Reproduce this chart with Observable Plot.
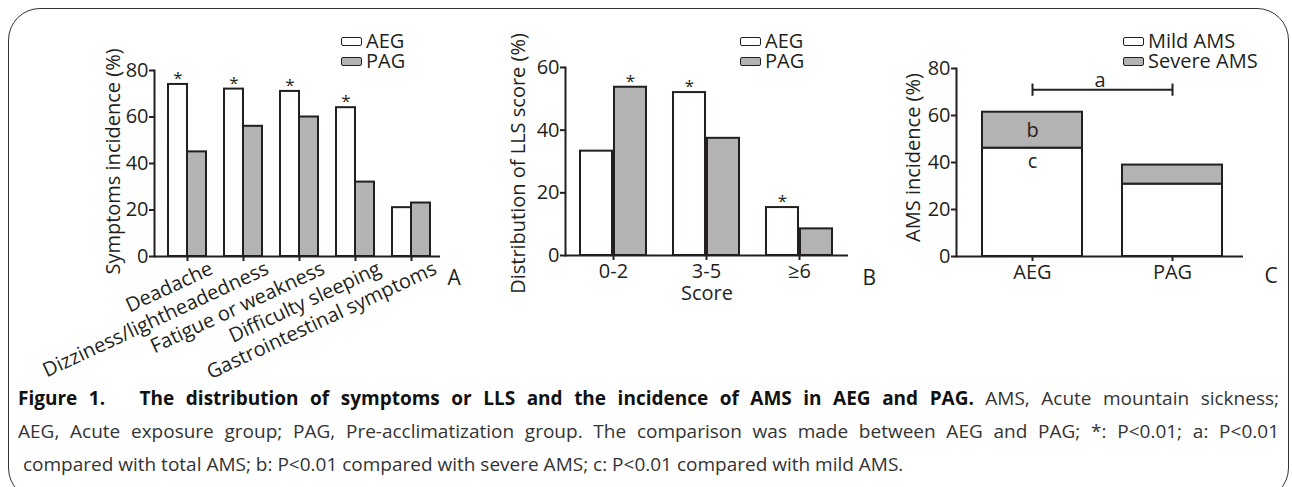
<!DOCTYPE html>
<html><head><meta charset="utf-8">
<script src="https://cdn.jsdelivr.net/npm/d3@7"></script>
<script src="https://cdn.jsdelivr.net/npm/@observablehq/plot@0.6"></script>
<style>
body{margin:0;background:#fff;}
#wrap{position:relative;width:1292px;height:487px;overflow:hidden;font-family:"Open Sans",sans-serif;color:#231f20;}
#border{position:absolute;left:8px;top:8px;width:1281px;height:492px;border:1.3px solid #333;border-radius:32px;box-sizing:border-box;}
.panel{position:absolute;top:0;}
.legend{position:absolute;font-size:20px;line-height:20px;top:31px;}
.legend .row{display:flex;align-items:center;height:20px;}
.sw{display:inline-block;width:21px;height:9px;border:1.6px solid #231f20;border-radius:2px;box-sizing:border-box;margin-right:4px;}
#caption{position:absolute;left:18px;top:382px;width:1261px;font-size:19px;line-height:33px;color:#333;}
#caption .j{text-align:justify;text-align-last:justify;white-space:nowrap;overflow:hidden;}
#caption b{color:#111;}
</style>
</head><body>
<div id="wrap">
<div id="border"></div>
<div id="pA" class="panel" style="left:0px"></div>
<div id="pB" class="panel" style="left:470px"></div>
<div id="pC" class="panel" style="left:890px"></div>
<div id="legA" class="legend" style="left:341px"></div>
<div id="legB" class="legend" style="left:740px"></div>
<div id="legC" class="legend" style="left:1123px"></div>
<div id="caption">
<div class="j" id="cl1"><b>Figure 1.&nbsp;&nbsp; The distribution of symptoms or LLS and the incidence of AMS in AEG and PAG.</b> AMS, Acute mountain sickness;</div>
<div class="j" id="cl2">AEG, Acute exposure group; PAG, Pre-acclimatization group. The comparison was made between AEG and PAG; *: P&lt;0.01; a: P&lt;0.01</div>
<div>&nbsp;compared with total AMS; b: P&lt;0.01 compared with severe AMS; c: P&lt;0.01 compared with mild AMS.</div>
</div>
</div>
<script>
// ---- Panel A data ----
const symptoms = ["Deadache", "Dizziness/lightheadedness", "Fatigue or weakness", "Difficulty sleeping", "Gastrointestinal symptoms"];
const symptomAEG = [74, 72, 71, 64, 21];
const symptomPAG = [45, 56, 60, 32, 23];
const symptomStarAEG = [true, true, true, true, false];
const yTicksA = [0, 20, 40, 60, 80];

// ---- Panel B data ----
const scores = ["0-2", "3-5", "≥6"];
const scoreAEG = [33.3, 52.0, 15.3];
const scorePAG = [53.7, 37.4, 8.5];
const scoreStarAEG = [false, true, true];
const scoreStarPAG = [true, false, false];
const yTicksB = [0, 20, 40, 60];

// ---- Panel C data ----
const groups = ["AEG", "PAG"];
const mildAMS = [46.1, 30.8];
const severeAMS = [15.3, 8.1];
const bracketValue = 71;
const yTicksC = [0, 20, 40, 60, 80];

const seriesNames = ["AEG", "PAG"];
const amsNames = ["Mild AMS", "Severe AMS"];

const INK = "#231f20";
const GRAY = "#b3b3b3";
const baseStyle = {fontFamily: "Open Sans, sans-serif", fontSize: "20px", color: INK, background: "transparent", overflow: "visible"};

// ---------- Panel A ----------
const dataA = symptoms.map((s, i) => ({cat: s, aeg: symptomAEG[i], pag: symptomPAG[i], star: symptomStarAEG[i]}));
const plotA = Plot.plot({
  width: 470, height: 390, marginLeft: 154, marginRight: 30, marginTop: 70, marginBottom: 134,
  style: baseStyle,
  x: {domain: symptoms, paddingInner: 0.321, paddingOuter: 0.214, align: 0.58, label: null},
  y: {domain: [0, 80], label: null},
  marks: [
    Plot.barY(dataA, {x: "cat", y: "aeg", fill: "white", stroke: INK, strokeWidth: 2, insetRight: 19}),
    Plot.barY(dataA, {x: "cat", y: "pag", fill: GRAY, stroke: INK, strokeWidth: 2, insetLeft: 19}),
    Plot.text(dataA.filter(d => d.star), {x: "cat", y: "aeg", text: () => "*", dx: -9.5, dy: -6, fontSize: 17}),
    Plot.axisY({ticks: yTicksA, tickSize: 5, tickPadding: 1, strokeWidth: 2, label: null, fontSize: 20}),
    Plot.axisX({tickSize: 5, strokeWidth: 2, tickFormat: () => "", label: null}),
    Plot.axisX({tickSize: 0, tickPadding: 2, tickRotate: -25, dx: 24, dy: 9, label: null, fontSize: 20}),
    Plot.ruleY([0], {strokeWidth: 2}),
    Plot.frame({anchor: "left", strokeWidth: 2}),
    Plot.text(["Symptoms incidence (%)"], {frameAnchor: "left", textAnchor: "middle", rotate: -90, dx: -41, dy: -2, fontSize: 20}),
    Plot.text(["A"], {frameAnchor: "bottom-right", textAnchor: "start", dx: 7, dy: 28, fontSize: 21})
  ]
});
document.getElementById("pA").append(plotA);

// ---------- Panel B ----------
const dataB = scores.map((s, i) => ({cat: s, aeg: scoreAEG[i], pag: scorePAG[i], sa: scoreStarAEG[i], sp: scoreStarPAG[i]}));
const plotB = Plot.plot({
  width: 420, height: 390, marginLeft: 95, marginRight: 42, marginTop: 67, marginBottom: 135,
  style: baseStyle,
  x: {domain: scores, paddingInner: 0.294, paddingOuter: 0.16, align: 0.47, label: null},
  y: {domain: [0, 60], label: null},
  marks: [
    Plot.barY(dataB, {x: "cat", y: "aeg", fill: "white", stroke: INK, strokeWidth: 2, insetRight: 34}),
    Plot.barY(dataB, {x: "cat", y: "pag", fill: GRAY, stroke: INK, strokeWidth: 2, insetLeft: 34}),
    Plot.text(dataB.filter(d => d.sa), {x: "cat", y: "aeg", text: () => "*", dx: -17, dy: -6, fontSize: 17}),
    Plot.text(dataB.filter(d => d.sp), {x: "cat", y: "pag", text: () => "*", dx: 17, dy: -6, fontSize: 17}),
    Plot.axisY({ticks: yTicksB, tickSize: 5, tickPadding: 1, strokeWidth: 2, label: null, fontSize: 20}),
    Plot.axisX({tickSize: 5, tickPadding: 3, strokeWidth: 2, label: null, fontSize: 20}),
    Plot.ruleY([0], {strokeWidth: 2}),
    Plot.frame({anchor: "left", strokeWidth: 2}),
    Plot.text(["Distribution of LLS score (%)"], {frameAnchor: "left", textAnchor: "middle", rotate: -90, dx: -47, dy: 2, fontSize: 20}),
    Plot.text(["Score"], {frameAnchor: "bottom", dy: 44, fontSize: 20}),
    Plot.text(["B"], {frameAnchor: "bottom-right", textAnchor: "start", dx: 14, dy: 29, fontSize: 21})
  ]
});
document.getElementById("pB").append(plotB);

// ---------- Panel C ----------
const dataC = groups.flatMap((g, i) => [
  {g, type: amsNames[0], v: mildAMS[i]},
  {g, type: amsNames[1], v: severeAMS[i]}
]);
const plotC = Plot.plot({
  width: 402, height: 390, marginLeft: 66, marginRight: 49, marginTop: 68, marginBottom: 134,
  style: baseStyle,
  x: {domain: groups, paddingInner: 0.284, paddingOuter: 0.16, align: 0.556, label: null},
  y: {domain: [0, 80], label: null},
  color: {domain: amsNames, range: ["white", GRAY]},
  marks: [
    Plot.barY(dataC, {x: "g", y: "v", fill: "type", stroke: INK, strokeWidth: 2, order: null}),
    Plot.text([{g: groups[0], y: mildAMS[0] + severeAMS[0] / 2}], {x: "g", y: "y", text: () => "b", fontSize: 20}),
    Plot.text([{g: groups[0], y: mildAMS[0]}], {x: "g", y: "y", text: () => "c", dy: 13, fontSize: 20}),
    Plot.link([{x1: groups[0], x2: groups[1], y: bracketValue}], {x1: "x1", x2: "x2", y1: "y", y2: "y", stroke: INK, strokeWidth: 2}),
    Plot.link(groups, {x1: d => d, x2: d => d, y1: bracketValue - 2.6, y2: bracketValue + 2.6, stroke: INK, strokeWidth: 2}),
    Plot.text(["a"], {y: [bracketValue], frameAnchor: "middle", dy: -9, fontSize: 20}),
    Plot.axisY({ticks: yTicksC, tickSize: 5, tickPadding: 1, strokeWidth: 2, label: null, fontSize: 20}),
    Plot.axisX({tickSize: 5, tickPadding: 3, strokeWidth: 2, label: null, fontSize: 20}),
    Plot.ruleY([0], {strokeWidth: 2}),
    Plot.frame({anchor: "left", strokeWidth: 2}),
    Plot.text(["AMS incidence (%)"], {frameAnchor: "left", textAnchor: "middle", rotate: -90, dx: -43, dy: -5, fontSize: 20}),
    Plot.text(["C"], {frameAnchor: "bottom-right", textAnchor: "start", dx: 21, dy: 26, fontSize: 21})
  ]
});
document.getElementById("pC").append(plotC);

// ---------- Legends ----------
function legend(id, names, fills) {
  const el = document.getElementById(id);
  names.forEach((n, i) => {
    const row = document.createElement("div");
    row.className = "row";
    const sw = document.createElement("span");
    sw.className = "sw";
    sw.style.background = fills[i];
    row.append(sw, document.createTextNode(n));
    el.append(row);
  });
}
legend("legA", seriesNames, ["white", GRAY]);
legend("legB", seriesNames, ["white", GRAY]);
legend("legC", amsNames, ["white", GRAY]);

// Keep each justified caption line on one line: shrink its letter spacing if it overflows.
["cl1", "cl2"].forEach(id => {
  const el = document.getElementById(id);
  let ls = 0;
  while (el.scrollWidth > el.clientWidth + 0.5 && ls > -1.5) { ls -= 0.05; el.style.letterSpacing = ls + "px"; }
});
</script>
</body></html>
